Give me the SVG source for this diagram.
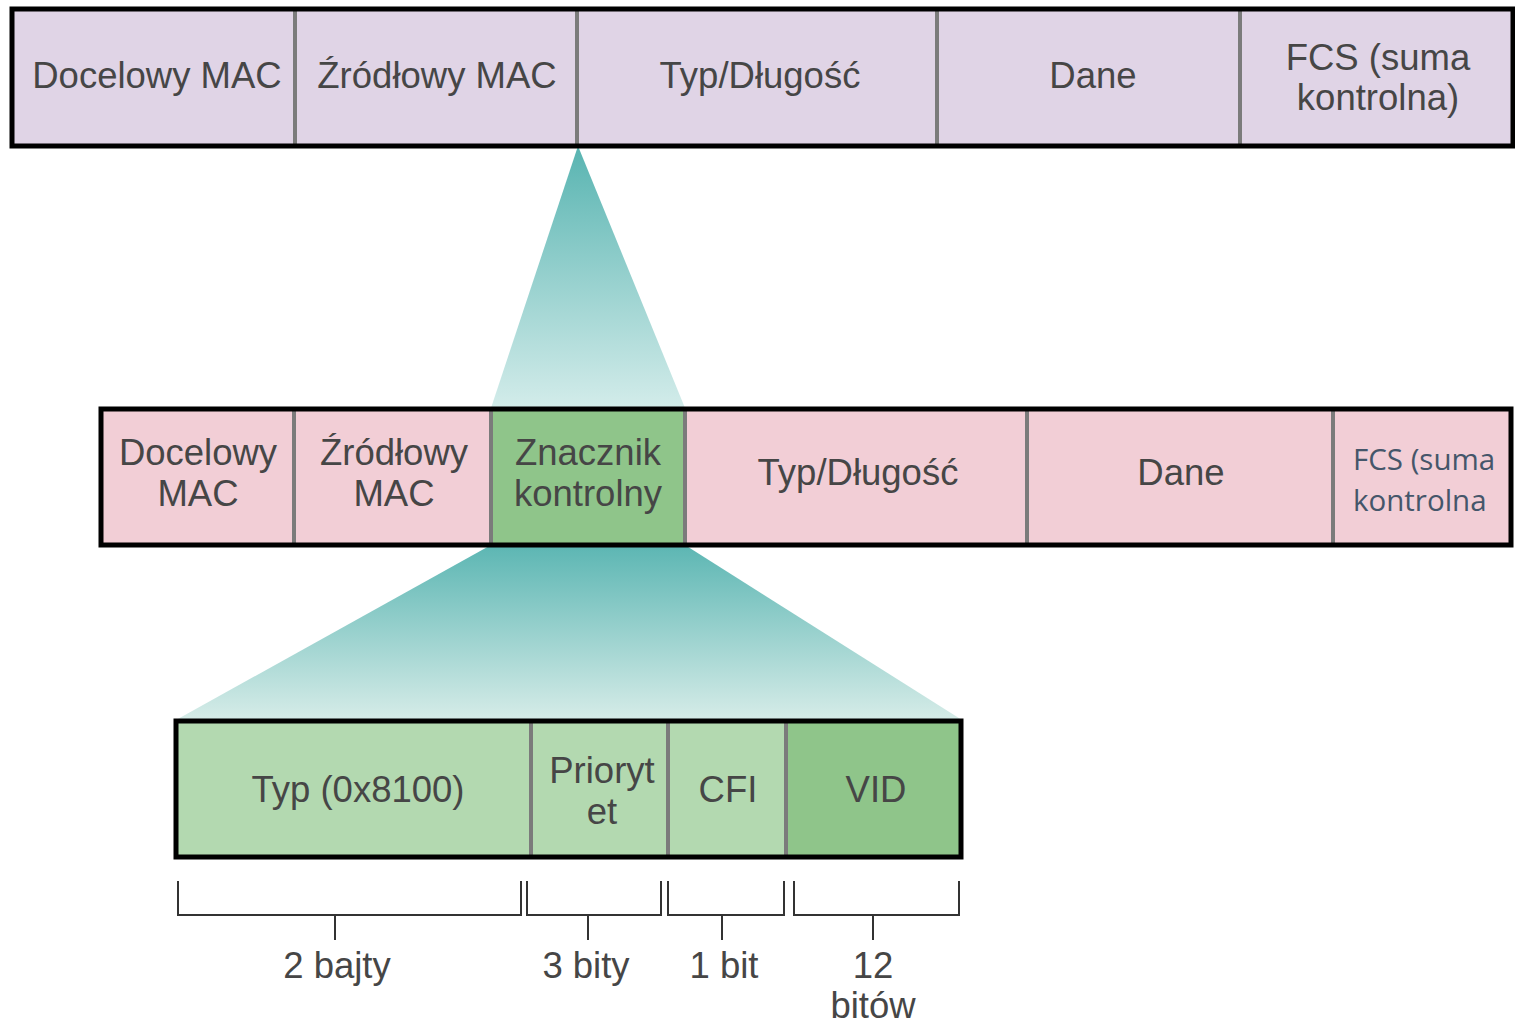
<svg xmlns="http://www.w3.org/2000/svg" width="1515" height="1023" viewBox="0 0 1515 1023">
<style>
.t{font-family:"Liberation Sans",Arial,sans-serif;font-size:36.5px;fill:#464646;text-anchor:middle}
.c{font-family:"Open Sans","Noto Sans",sans-serif;font-size:29.5px;fill:#45566a}
.frame{fill:none;stroke:#000;stroke-width:5}
.div{stroke:#7b7b7b;stroke-width:4}
.br{fill:none;stroke:#333;stroke-width:2}
</style>
<defs>
<linearGradient id="g1" x1="0" y1="0" x2="0" y2="1">
<stop offset="0" stop-color="#58b4b1"/>
<stop offset="1" stop-color="#d3ecea"/>
</linearGradient>
<linearGradient id="g2" x1="0" y1="0" x2="0" y2="1">
<stop offset="0" stop-color="#5cb6b3"/>
<stop offset="1" stop-color="#d6ece8"/>
</linearGradient>
</defs>
<rect width="1515" height="1023" fill="#fff"/>
<g id="connectors">
<polygon points="578,146 491,408 685,408" fill="url(#g1)"/>
<polygon points="491,545 685,545 962,720 176,720" fill="url(#g2)"/>
</g>
<g id="frame-top">
<rect x="12" y="9" width="1501" height="137" fill="#e0d4e6"/>
<line class="div" x1="295" y1="9" x2="295" y2="146"/>
<line class="div" x1="577" y1="9" x2="577" y2="146"/>
<line class="div" x1="937" y1="9" x2="937" y2="146"/>
<line class="div" x1="1240" y1="9" x2="1240" y2="146"/>
<rect class="frame" x="12" y="9" width="1501" height="137"/>
<text class="t" x="157" y="88">Docelowy MAC</text>
<text class="t" x="437" y="88">Źródłowy MAC</text>
<text class="t" x="760" y="88">Typ/Długość</text>
<text class="t" x="1093" y="88">Dane</text>
<text class="t" x="1378" y="70">FCS (suma</text>
<text class="t" x="1378" y="110">kontrolna)</text>
</g>
<g id="frame-middle">
<rect x="101" y="409" width="1410" height="136" fill="#f2ced6"/>
<rect x="491" y="409" width="194" height="136" fill="#8fc58a"/>
<line class="div" x1="294" y1="409" x2="294" y2="545"/>
<line class="div" x1="491" y1="409" x2="491" y2="545"/>
<line class="div" x1="685" y1="409" x2="685" y2="545"/>
<line class="div" x1="1027" y1="409" x2="1027" y2="545"/>
<line class="div" x1="1333" y1="409" x2="1333" y2="545"/>
<rect class="frame" x="101" y="409" width="1410" height="136"/>
<text class="t" x="198" y="465">Docelowy</text>
<text class="t" x="198" y="506">MAC</text>
<text class="t" x="394" y="465">Źródłowy</text>
<text class="t" x="394" y="506">MAC</text>
<text class="t" x="588" y="465">Znacznik</text>
<text class="t" x="588" y="506">kontrolny</text>
<text class="t" x="858" y="485">Typ/Długość</text>
<text class="t" x="1181" y="485">Dane</text>
<text class="c" x="1353" y="470">FCS (suma</text>
<text class="c" x="1353" y="511">kontrolna</text>
</g>
<g id="frame-tag">
<rect x="176" y="721" width="785" height="136" fill="#b3d9b0"/>
<rect x="786" y="721" width="175" height="136" fill="#8fc58a"/>
<line class="div" x1="531" y1="721" x2="531" y2="857"/>
<line class="div" x1="668" y1="721" x2="668" y2="857"/>
<line class="div" x1="786" y1="721" x2="786" y2="857"/>
<rect class="frame" x="176" y="721" width="785" height="136"/>
<text class="t" x="358" y="802">Typ (0x8100)</text>
<text class="t" x="602" y="783">Prioryt</text>
<text class="t" x="602" y="824">et</text>
<text class="t" x="728" y="802">CFI</text>
<text class="t" x="876" y="802">VID</text>
</g>
<g id="brackets">
<polyline class="br" points="178,881 178,915 521,915 521,881"/>
<line class="br" x1="335" y1="915" x2="335" y2="940"/>
<polyline class="br" points="527,881 527,915 661,915 661,881"/>
<line class="br" x1="588" y1="915" x2="588" y2="940"/>
<polyline class="br" points="668,881 668,915 784,915 784,881"/>
<line class="br" x1="722" y1="915" x2="722" y2="940"/>
<polyline class="br" points="794,881 794,915 959,915 959,881"/>
<line class="br" x1="873" y1="915" x2="873" y2="940"/>
<text class="t" x="337" y="978">2 bajty</text>
<text class="t" x="586" y="978">3 bity</text>
<text class="t" x="724" y="978">1 bit</text>
<text class="t" x="873" y="978">12</text>
<text class="t" x="873" y="1018">bitów</text>
</g>
</svg>
